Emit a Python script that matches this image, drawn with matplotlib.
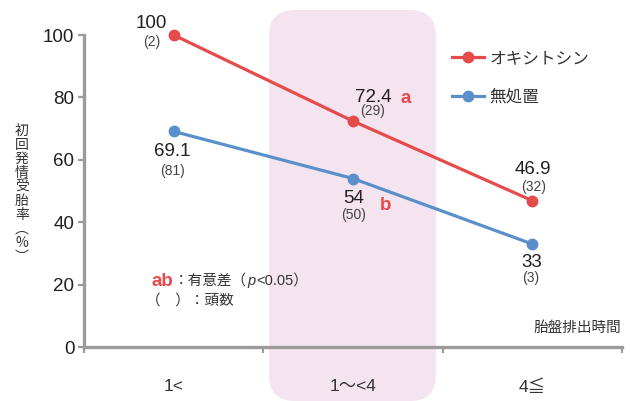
import matplotlib
matplotlib.use("Agg")
import matplotlib.pyplot as plt
from matplotlib.patches import FancyBboxPatch
from matplotlib.transforms import offset_copy

plt.rcParams['font.family'] = ['Liberation Sans', 'Noto Sans CJK JP', 'DejaVu Sans']

categories = ["1<", "1～<4", "4≦"]
oxytocin = [100, 72.4, 46.9]
oxytocin_n = [2, 29, 32]
control = [69.1, 54, 33]
control_n = [81, 50, 3]
series_names = ["オキシトシン", "無処置"]
yticks = [0, 20, 40, 60, 80, 100]

RED = "#e64b4b"
BLUE = "#5b8fca"
AXIS = "#9b9b9b"
TEXT = "#231f20"

W, H = 630, 401
fig = plt.figure(figsize=(W / 100, H / 100), dpi=100)
ax = fig.add_axes([84 / W, 1 - 347 / H, (622 - 84) / W, (347 - 35) / H])
ax.set_xlim(-0.5, 2.5)
ax.set_ylim(0, 100)
ax.patch.set_alpha(0)

# highlighted middle band with rounded corners (figure coordinates)
bx0, bx1 = 269 / W, 436 / W
by0, by1 = 0.0, 1 - 10 / H
rad = 26 / W
band = FancyBboxPatch((bx0 + rad, by0 + rad * W / H), (bx1 - bx0) - 2 * rad,
                      (by1 - by0) - 2 * rad * W / H,
                      boxstyle=f"round,pad={rad}", mutation_aspect=W / H,
                      transform=fig.transFigure, facecolor="#f4e4f0",
                      edgecolor="none", zorder=0, clip_on=False)
ax.add_patch(band)

x = list(range(len(categories)))
ax.plot(x, oxytocin, color=RED, lw=2.3, marker="o", ms=7.5, clip_on=False,
        zorder=5, label=series_names[0])
ax.plot(x, control, color=BLUE, lw=2.3, marker="o", ms=7.5, clip_on=False,
        zorder=5, label=series_names[1])

for s in ["top", "right"]:
    ax.spines[s].set_visible(False)
for s in ["left", "bottom"]:
    ax.spines[s].set_color(AXIS)
    ax.spines[s].set_linewidth(2.4)
    ax.spines[s].set_zorder(6)

ax.set_yticks(yticks)
ax.set_yticklabels([str(v) for v in yticks])
ax.tick_params(axis="y", direction="out", length=4, width=1.6, color=AXIS,
               labelsize=13.5, labelcolor=TEXT, pad=3)

ax.set_xticks(x)
ax.set_xticklabels(categories)
ax.set_xticks([-0.5, 0.5, 1.5, 2.5], minor=True)
ax.tick_params(axis="x", which="major", length=0, labelsize=12.5,
               labelcolor="#333333", pad=23)
ax.tick_params(axis="x", which="minor", direction="out", length=4, width=1.6,
               color=AXIS)


def label(xi, yi, value, n, dv, dn, letter=None, dl=None):
    ax.annotate(value, (xi, yi), xytext=dv, textcoords="offset pixels",
                ha="center", va="center", fontsize=13.5, color=TEXT, zorder=7)
    ax.annotate(f"({n})", (xi, yi), xytext=dn, textcoords="offset pixels",
                ha="center", va="center", fontsize=10, color="#444444",
                zorder=7)
    if letter:
        ax.annotate(letter, (xi, yi), xytext=dl, textcoords="offset pixels",
                    ha="center", va="center", fontsize=13.5, color=RED,
                    fontweight="bold", zorder=7)


label(0, oxytocin[0], "100", oxytocin_n[0], (-22, 12), (-22, -7))
label(1, oxytocin[1], "72.4", oxytocin_n[1], (20, 24), (20, 10), "a", (53, 23))
label(2, oxytocin[2], "46.9", oxytocin_n[2], (1, 31), (1, 14))
label(0, control[0], "69.1", control_n[0], (-1, -20), (-1, -40))
label(1, control[1], "54", control_n[1], (1, -20), (1, -36), "b", (33, -27))
label(2, control[2], "33", control_n[2], (-1, -18), (-2, -34))

leg = ax.legend(loc="upper left", bbox_to_anchor=(452 / W, 1 - 51 / H),
                bbox_transform=fig.transFigure, frameon=False, fontsize=12,
                handlelength=1.9, handletextpad=0.35, labelspacing=1.4,
                borderpad=0, borderaxespad=0)
for t in leg.get_texts():
    t.set_color("#333333")

# vertical y-axis title, one character per line
ylabel_chars = ["初", "回", "発", "情", "受", "胎", "率", "︵", "%", "︶"]
fig.text(22 / W, 1 - 194 / H, "\n".join(ylabel_chars), ha="center",
         va="center", fontsize=10, color="#333333", linespacing=1.0,
         family=['Noto Sans CJK JP', 'DejaVu Sans'])

fig.text(621 / W, 1 - 328 / H, "胎盤排出時間", ha="right", va="center",
         fontsize=10.5, color="#333333")

# significance note: pieces laid out left to right
renderer = fig.canvas.get_renderer()
pieces = [("ab", dict(fontsize=13.5, color=RED, fontweight="bold")),
          ("：有意差（", dict(fontsize=10.5, color="#333333")),
          ("p", dict(fontsize=10.5, color="#333333", style="italic")),
          ("<0.05）", dict(fontsize=10.5, color="#333333"))]
cursor = 152
for s, kw in pieces:
    t = fig.text(cursor / W, 1 - 281 / H, s, ha="left", va="center", **kw)
    cursor = t.get_window_extent(renderer).x1 + (1 if s == "p" else 0)
fig.text(146 / W, 1 - 301 / H, "（　）：頭数", ha="left", va="center",
         fontsize=10.5, color="#333333")

fig.savefig("out.png", dpi=100)
